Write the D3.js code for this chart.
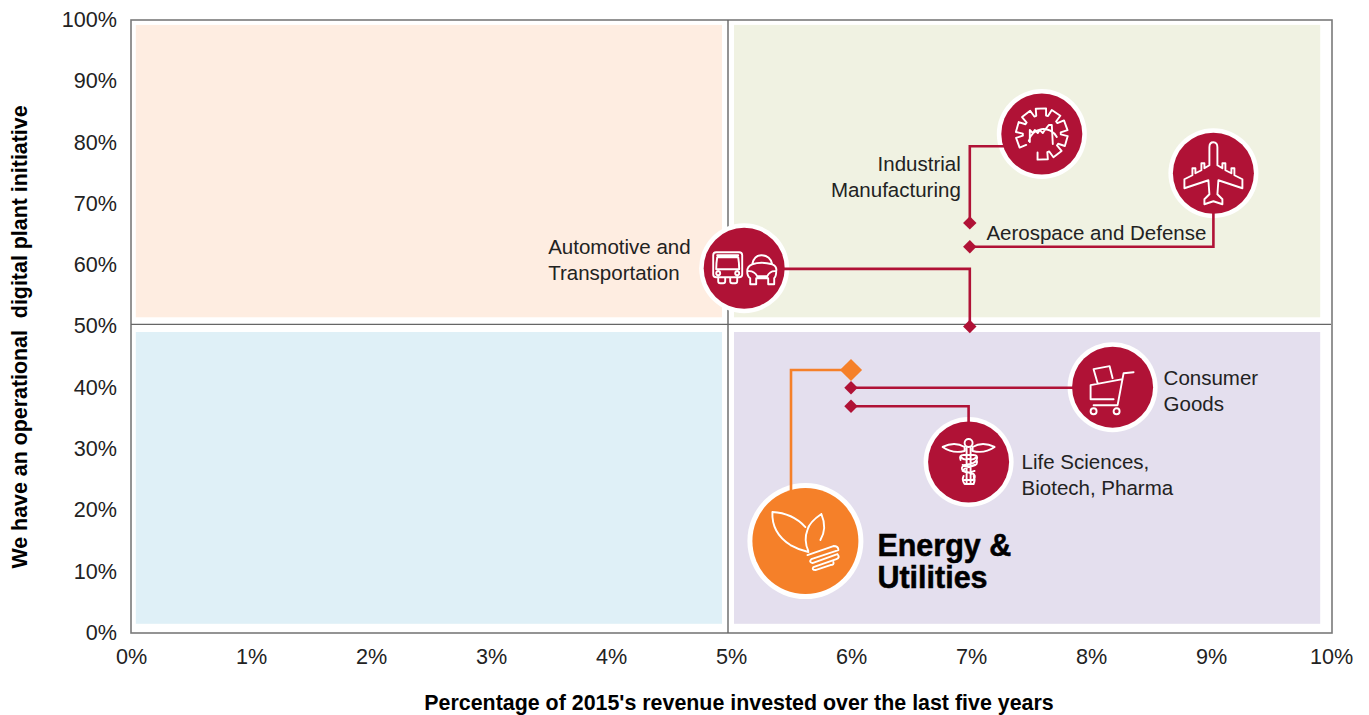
<!DOCTYPE html>
<html>
<head>
<script src="https://d3js.org/d3.v7.min.js"></script>
<style>
body { margin: 0; background: white; font-family: "Liberation Sans", Arial, sans-serif; }
svg { display: block; }
.tick text { font-size: 21.6px; fill: #222; font-family: "Liberation Sans", Arial, sans-serif; }
.label { font-size: 20.5px; fill: #222; }
.title { font-size: 21.4px; font-weight: bold; fill: #000; }
.icon { fill: none; stroke: white; stroke-width: 1.9; stroke-linejoin: round; stroke-linecap: round; }
</style>
<title>Digital plant initiative</title>
</head>
<body>
<div id="chart"></div>
<script>
// chart values
const sectors = ["Automotive and Transportation", "Industrial Manufacturing", "Aerospace and Defense", "Consumer Goods", "Life Sciences, Biotech, Pharma", "Energy & Utilities"];
const revenuePct = [6.99, 6.99, 6.99, 6, 6, 6];
const plantPct = [50, 66.9, 63, 40, 37, 42.9];
const xTicks = d3.range(0, 11);
const yTicks = d3.range(0, 101, 10);

// where the round badges sit, in axis units
const badgeX = [5.11, 7.59, 9.02, 8.18, 6.98, 5.62];
const badgeY = [59.5, 81.4, 75, 40.1, 27.9, 15];
// elbow of each connector, in axis units (null = straight line)
const elbowX = [6.99, 6.99, 9.02, null, 6.98, 5.5];
const elbowY = [59.4, 79.4, 63, null, 37, 42.9];

const quadrants = [
  {x0: 0.04, x1: 4.925, y0: 51.5, y1: 99.2, fill: "#feede1"},
  {x0: 5.025, x1: 9.91, y0: 51.5, y1: 99.2, fill: "#f0f2e2"},
  {x0: 0.04, x1: 4.925, y0: 1.5, y1: 49.1, fill: "#dff0f7"},
  {x0: 5.025, x1: 9.91, y0: 1.5, y1: 49.1, fill: "#e4dfee"}
];

// text next to each badge, offset from badge centre in px
const labels = [
  {lines: ["Automotive and", "Transportation"], dx: -196, dy: -14, anchor: "start"},
  {lines: ["Industrial", "Manufacturing"], dx: -81, dy: 37, anchor: "end"},
  {lines: ["Aerospace and Defense"], dx: -227, dy: 67, anchor: "start"},
  {lines: ["Consumer", "Goods"], dx: 51, dy: -2, anchor: "start"},
  {lines: ["Life Sciences,", "Biotech, Pharma"], dx: 53, dy: 7, anchor: "start"},
  {lines: ["Energy &", "Utilities"], dx: 72, dy: 15, anchor: "start", big: true}
];

// gear outline for the industrial badge, one tooth left out at lower left
function gearPath() {
  const pts = [];
  d3.range(9).forEach(i => {
    const a = (250 + i * 36) * Math.PI / 180;
    const w = 0.2;
    pts.push([a - w * 1.3, 19], [a - w, 26], [a + w, 26], [a + w * 1.3, 19]);
  });
  return d3.line().x(d => d[1] * Math.sin(d[0])).y(d => -d[1] * Math.cos(d[0]))(pts);
}

const icons = [
  // bus and car
  "M-28 -16H-5Q-2 -16 -2 -13V6Q-2 9 -5 9H-28Q-31 9 -31 6V-13Q-31 -16 -28 -16Z M-27 -13H-6 M-27 -11Q-28 -5 -28 1H-5Q-5 -5 -6 -11Z M-24 5a2 2 0 1 0 -4 0a2 2 0 1 0 4 0 M-5 5a2 2 0 1 0 -4 0a2 2 0 1 0 4 0 M-26 9V13Q-26 15 -24 15H-21Q-19 15 -19 13V9 M-14 9V13Q-14 15 -12 15H-9Q-7 15 -7 13V9" +
  "M6 16V10Q3 8 3 3Q3 -2 8 -4Q10 -13 17 -13Q26 -13 28 -4Q33 -2 32 3Q32 8 30 10V16H24V10H12V16Z M8 -4Q17 -7 28 -4 M3 3Q10 2 13 8H23Q26 2 32 3",
  // gear and factory
  gearPath() + "M-12 8V-4L-9 -1L-7 -4L-4 -1L-2 -4L1 -1L3 -4L7 -9H10L11 10 M-13 7A15 15 0 0 1 15 3",
  // plane
  "M0 -31Q4 -31 4 -26V-8L9 -5V-10H12V-3L18 0V-5H21V2L29 6V15L5 7L4 21L9 26V31L0 28L-9 31V26L-4 21L-5 7L-29 15V6L-21 2V-5H-18V0L-12 -3V-10H-9V-5L-4 -8V-26Q-4 -31 0 -31Z",
  // cart
  "M-19 -18L-3 -21L0 -9 M-15 -4L-19 -18 M1 12H-22V-2L10 -8 M21 -15L11 -14L5 18H-19 M-16 24a3 3 0 1 0 -6 0a3 3 0 1 0 6 0 M7 24a3 3 0 1 0 -6 0a3 3 0 1 0 6 0",
  // caduceus
  "M-26 -15Q-14 -21 -4 -15V-11Q-16 -8 -26 -15Z M26 -15Q14 -21 4 -15V-11Q16 -8 26 -15Z M4 -19a4 4 0 1 0 -8 0a4 4 0 1 0 8 0 M-2 -14V22 M2 -14V22 M-8 -2Q-10 -7 -5 -7H5Q10 -7 8 -2Q6 2 -4 3Q-9 6 -5 9L5 12Q8 15 4 18H-4 M8 -2Q10 3 4 4Q-6 6 -5 9 M-5 14Q-7 18 -4 22H5Q7 18 5 14 M-8 -5Q-4 -1 0 -3Q4 -1 8 -5 M-6 3Q0 6 6 3 M-6 9Q0 12 6 9",
  // bulb with leaves
  "M-33 -29Q-13 -28 0 -14 M-33 -29Q-34 -8 -15 4Q-6 9 3 11 M16 -27Q4 -19 2 -11Q-2 -1 3 10 M16 -27Q22 -13 15 -1 M2 14L28 5Q33 5 33 9L6 18Q3 21 7 22L32 13Q35 17 31 18L8 26Q6 29 10 29L25 24Q29 24 28 21"
];

const width = 1369;
const height = 715;

const x = d3.scaleLinear().domain([0, 10]).range([131, 1331]);
const y = d3.scaleLinear().domain([0, 100]).range([633, 20]);

const svg = d3.create("svg")
    .attr("width", width)
    .attr("height", height)
    .attr("viewBox", [0, 0, width, height]);

// quadrant backgrounds
svg.append("g")
  .selectAll("rect")
  .data(quadrants)
  .join("rect")
    .attr("x", d => x(d.x0))
    .attr("y", d => y(d.y1))
    .attr("width", d => x(d.x1) - x(d.x0))
    .attr("height", d => y(d.y0) - y(d.y1))
    .attr("fill", d => d.fill);

// frame and dividers
svg.append("rect")
    .attr("x", x(0)).attr("y", y(100))
    .attr("width", x(10) - x(0) + 1).attr("height", y(0) - y(100))
    .attr("fill", "none").attr("stroke", "#7a7a7a").attr("stroke-width", 1.6);
svg.append("line")
    .attr("x1", x(4.975)).attr("x2", x(4.975)).attr("y1", y(100)).attr("y2", y(0))
    .attr("stroke", "#666").attr("stroke-width", 1.4);
svg.append("line")
    .attr("x1", x(0)).attr("x2", x(10)).attr("y1", y(50.35)).attr("y2", y(50.35))
    .attr("stroke", "#666").attr("stroke-width", 1.4);

// axes
svg.append("g")
    .attr("transform", `translate(0,${y(0)})`)
    .call(d3.axisBottom(x).tickValues(xTicks).tickFormat(d => d + "%").tickSize(0).tickPadding(16))
    .call(g => g.select(".domain").remove());
svg.append("g")
    .attr("transform", `translate(${x(0)},-0.5)`)
    .call(d3.axisLeft(y).tickValues(yTicks).tickFormat(d => d + "%").tickSize(0).tickPadding(14))
    .call(g => g.select(".domain").remove());

svg.append("text")
    .attr("class", "title")
    .attr("x", 739).attr("y", 710)
    .attr("text-anchor", "middle")
    .text("Percentage of 2015's revenue invested over the last five years");
svg.append("text")
    .attr("class", "title")
    .attr("transform", "translate(27,337) rotate(-90)")
    .attr("text-anchor", "middle")
    .style("white-space", "pre")
    .text("We have an operational  digital plant initiative");

const colorOf = i => i === 5 ? "#f58029" : "#b01236";

// white rings go under the connectors, red discs on top of them
const ringAt = (d, i) => `translate(${x(badgeX[i])},${y(badgeY[i])})`;
svg.append("g")
  .selectAll("circle")
  .data(sectors)
  .join("circle")
    .attr("transform", ringAt)
    .attr("r", (d, i) => i === 5 ? 58 : 45)
    .attr("fill", "white");

// connectors: point -> elbow -> badge, with square corners
const line = d3.line();
sectors.forEach((s, i) => {
  const pts = [[x(revenuePct[i]), y(plantPct[i])]];
  if (elbowX[i] !== null) {
    pts.push([x(elbowX[i]), y(elbowY[i])]);
    // last leg of the line runs level or upright, whichever the elbow needs
    if (elbowX[i] === revenuePct[i]) pts.push([x(badgeX[i]), y(elbowY[i])]);
    else pts.push([x(elbowX[i]), y(badgeY[i])]);
  } else {
    pts.push([x(badgeX[i]), y(plantPct[i])]);
  }
  svg.append("path")
      .attr("d", line(pts))
      .attr("fill", "none")
      .attr("stroke", colorOf(i))
      .attr("stroke-width", 2.6);
});

// diamonds
svg.append("g")
  .selectAll("path")
  .data(sectors)
  .join("path")
    .attr("d", (d, i) => d3.symbol(d3.symbolSquare, i === 5 ? 245 : 90)())
    .attr("transform", (d, i) => `translate(${x(revenuePct[i])},${y(plantPct[i])}) rotate(45)`)
    .attr("fill", (d, i) => colorOf(i));

// badges
const badge = svg.append("g")
  .selectAll("g")
  .data(sectors)
  .join("g")
    .attr("transform", ringAt);
badge.append("circle")
    .attr("r", (d, i) => i === 5 ? 53 : 40.5)
    .attr("fill", (d, i) => colorOf(i));
badge.append("path")
    .attr("class", "icon")
    .attr("d", (d, i) => icons[i]);

// labels
badge.each(function(d, i) {
  const l = labels[i];
  const t = d3.select(this).append("text")
      .attr("class", "label")
      .attr("text-anchor", l.anchor)
      .attr("transform", `translate(${l.dx},${l.dy})`)
      .style("font-size", l.big ? "30.5px" : null)
      .style("font-weight", l.big ? "bold" : null)
      .style("fill", l.big ? "#000" : null)
      .style("stroke", l.big ? "#000" : null)
      .style("stroke-width", l.big ? 0.5 : null);
  l.lines.forEach((s, j) => {
    t.append("tspan").attr("x", 0).attr("y", j * (l.big ? 32 : 25.7)).text(s);
  });
});

document.getElementById("chart").appendChild(svg.node());
</script>
</body>
</html>
